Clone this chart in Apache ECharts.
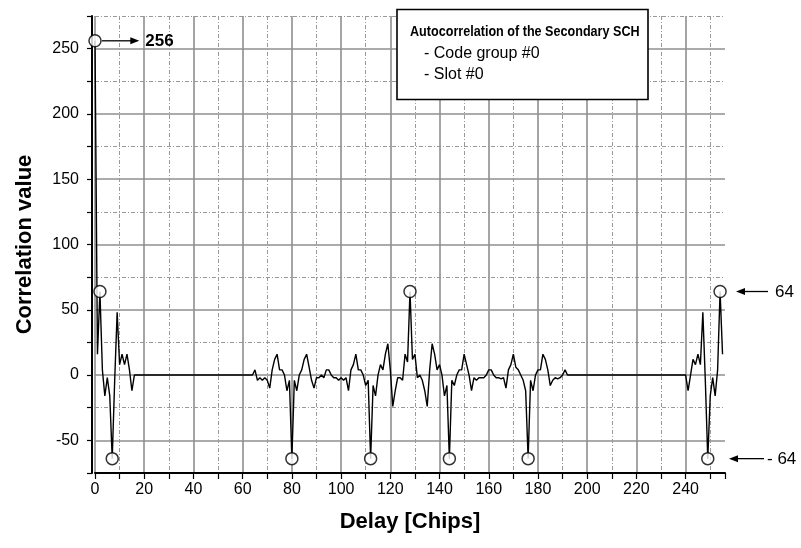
<!DOCTYPE html>
<html><head><meta charset="utf-8">
<script src="https://cdn.jsdelivr.net/npm/echarts@6/dist/echarts.min.js"></script>
<style>html,body{margin:0;padding:0;background:#fff}#c{width:801px;height:548px}</style>
</head><body><div id="c"></div>
<script>
const FONT = '"Liberation Sans",Arial,sans-serif';

// correlation value for delays 0..255 (one value per chip delay)
const corrValues = [
  256, 16, 64, 4, -16, -2, -16, -64, -4, 48, 8, 16, 8, 16, 4, -12,
  0, 0, 0, 0, 0, 0, 0, 0, 0, 0, 0, 0, 0, 0, 0, 0,
  0, 0, 0, 0, 0, 0, 0, 0, 0, 0, 0, 0, 0, 0, 0, 0,
  0, 0, 0, 0, 0, 0, 0, 0, 0, 0, 0, 0, 0, 0, 0, 0,
  0, 4, -4, -2, -4, -2, -4, -10, 4, 12, 16, 4, 4, 0, -12, -4,
  -64, -4, -12, 0, 4, 12, 16, 6, -4, -10, -2, -2, 0, -2, 4, 4,
  0, -2, -2, -4, -2, -4, -2, -12, 4, 8, 16, 4, 4, 0, -8, -4,
  -64, -8, -16, 0, 8, 4, 16, 24, 4, -24, -12, -2, -2, -4, 16, 10,
  64, 12, 16, -2, 0, -4, -12, -24, 4, 24, 16, 4, 8, 0, -16, -8,
  -64, -4, -8, 0, 4, 4, 16, 8, 0, -12, -2, -4, -2, -2, -2, 0,
  4, 4, 0, -2, -2, -3, -2, -10, 4, 8, 16, 6, 4, 0, -4, -12,
  -64, -4, -12, 0, 4, 4, 16, 12, 4, -8, -4, -2, -3, -2, 0, 4,
  0, 0, 0, 0, 0, 0, 0, 0, 0, 0, 0, 0, 0, 0, 0, 0,
  0, 0, 0, 0, 0, 0, 0, 0, 0, 0, 0, 0, 0, 0, 0, 0,
  0, 0, 0, 0, 0, 0, 0, 0, 0, 0, 0, 0, 0, 0, 0, 0,
  0, -12, 0, 12, 8, 16, 8, 48, -4, -64, -16, -2, -16, 4, 64, 16
];

// circled peaks
const peakDelays = [0, 2, 7, 80, 112, 128, 144, 176, 249, 254];
const peakValues = [256, 64, -64, -64, -64, 64, -64, -64, -64, 64];

// axes
const xMin = 0, xMax = 256, xTickStep = 10, xLabelStep = 20;
const yMin = -75, yMax = 275, yTickStep = 25, yLabelStep = 50;

// texts
const xTitle = 'Delay [Chips]';
const yTitle = 'Correlation value';
const legendLines = ['Autocorrelation of the Secondary SCH', '- Code group #0', '- Slot #0'];
const annoTop = { value: 256, text: '256' };
const annoRight = [{ value: 64, text: '64' }, { value: -64, text: '- 64' }];

const chart = echarts.init(document.getElementById('c'), null, { renderer: 'canvas' });

const solidGrid = '#8f8f8f', dashGrid = '#999';

const option = {
  animation: false,
  backgroundColor: '#fff',
  textStyle: { fontFamily: FONT },
  grid: { left: 95, right: 76, top: 16, bottom: 75, containLabel: false },
  xAxis: [
    {
      type: 'value', min: xMin, max: xMax, interval: xTickStep,
      axisLine: { show: true, onZero: false, lineStyle: { color: '#000', width: 2 } },
      axisTick: { show: true, length: 6, lineStyle: { color: '#000', width: 1.2 } },
      axisLabel: {
        formatter: v => (v % xLabelStep === 0 ? String(v) : ''),
        fontSize: 16, color: '#000', margin: 9, fontFamily: FONT
      },
      splitLine: { show: true, showMaxLine: false, lineStyle: { color: [solidGrid, 'transparent'], width: 1.6 } },
      name: xTitle, nameLocation: 'middle', nameGap: 38,
      nameTextStyle: { fontSize: 22, fontWeight: 'bold', color: '#000', fontFamily: FONT }
    },
    {
      type: 'value', min: xMin, max: xMax, interval: xTickStep, position: 'top',
      axisLine: { show: false }, axisTick: { show: false }, axisLabel: { show: false },
      splitLine: { show: true, showMaxLine: false, lineStyle: { color: ['transparent', dashGrid], width: 1, type: [4, 2, 1, 2] } }
    }
  ],
  yAxis: [
    {
      type: 'value', min: yMin, max: yMax, interval: yTickStep, offset: 3,
      axisLine: { show: true, onZero: false, lineStyle: { color: '#000', width: 2 } },
      axisTick: { show: true, length: 5, lineStyle: { color: '#000', width: 1.2 } },
      axisLabel: {
        formatter: v => (v % yLabelStep === 0 ? String(v) : ''),
        fontSize: 16, color: '#000', margin: 13, fontFamily: FONT
      },
      splitLine: { show: true, lineStyle: { color: ['transparent', solidGrid], width: 1.6 } },
      name: yTitle, nameLocation: 'middle', nameGap: 56,
      nameTextStyle: { fontSize: 22, fontWeight: 'bold', color: '#000', fontFamily: FONT }
    },
    {
      type: 'value', min: yMin, max: yMax, interval: yTickStep, position: 'right',
      axisLine: { show: false }, axisTick: { show: false }, axisLabel: { show: false },
      splitLine: { show: true, lineStyle: { color: [dashGrid, 'transparent'], width: 1, type: [4, 2, 1, 2] } }
    }
  ],
  series: [
    {
      type: 'line', xAxisIndex: 0, yAxisIndex: 0,
      data: corrValues.map((v, i) => [i, v]),
      showSymbol: false, symbol: 'none',
      lineStyle: { color: '#000', width: 1.4 },
      z: 3
    },
    {
      type: 'scatter', xAxisIndex: 0, yAxisIndex: 0,
      data: peakDelays.map((d, i) => [d, peakValues[i]]),
      symbol: 'circle', symbolSize: 12,
      itemStyle: { color: '#fff', borderColor: '#000', borderWidth: 1.5 },
      z: 4
    }
  ]
};
chart.setOption(option);

// annotations & legend box
function arrow(x1, y, x2, z) {
  const dir = x2 > x1 ? 1 : -1;
  return [
    { type: 'line', shape: { x1: x1, y1: y, x2: x2 - dir * 7, y2: y }, style: { stroke: '#000', lineWidth: 1.3 }, z: z },
    { type: 'polygon', shape: { points: [[x2, y], [x2 - dir * 9, y - 3.5], [x2 - dir * 9, y + 3.5]] }, style: { fill: '#000' }, z: z }
  ];
}
const px = v => chart.convertToPixel({ xAxisIndex: 0 }, v);
const py = v => chart.convertToPixel({ yAxisIndex: 0 }, v);
const els = [];
const yTop = py(annoTop.value);
els.push(...arrow(px(0) + 7, yTop, px(18), 50));
els.push({ type: 'text', x: px(18) + 6, y: yTop + 1, style: { text: annoTop.text, font: 'bold 17px ' + FONT, fill: '#000', textVerticalAlign: 'middle' }, z: 50 });
const rEdge = px(xMax);
annoRight.forEach((a, i) => {
  const y = py(a.value);
  const tip = i === 0 ? rEdge + 11 : rEdge + 4;
  const tail = i === 0 ? rEdge + 43 : rEdge + 39;
  els.push(...arrow(tail, y, tip, 50));
  els.push({ type: 'text', x: tail + (i === 0 ? 7 : 3), y: y + 1, style: { text: a.text, font: '17px ' + FONT, fill: '#000', textVerticalAlign: 'middle' }, z: 50 });
});
els.push({ type: 'rect', shape: { x: 397, y: 9.5, width: 251, height: 90 }, style: { fill: '#fff', stroke: '#000', lineWidth: 1.6 }, z: 60 });
els.push({ type: 'text', x: 410, y: 32, scaleX: 0.84, style: { text: legendLines[0], font: 'bold 15px ' + FONT, fill: '#000', textVerticalAlign: 'middle' }, z: 61 });
els.push({ type: 'text', x: 424, y: 54, style: { text: legendLines[1], font: '16px ' + FONT, fill: '#000', textVerticalAlign: 'middle' }, z: 61 });
els.push({ type: 'text', x: 424, y: 75, style: { text: legendLines[2], font: '16px ' + FONT, fill: '#000', textVerticalAlign: 'middle' }, z: 61 });
chart.setOption({ graphic: els });
</script>
</body></html>
